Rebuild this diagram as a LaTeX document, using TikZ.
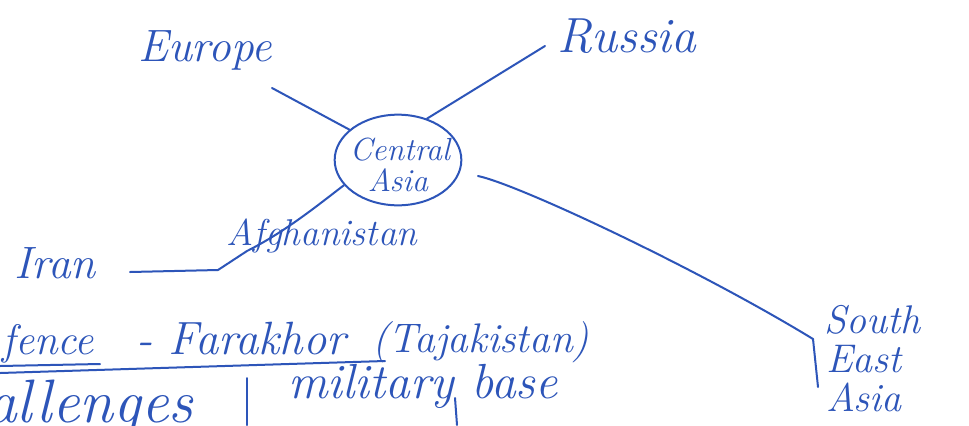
\documentclass[tikz,border=0pt]{standalone}
\usepackage{tikz}
\usetikzlibrary{shapes.geometric}
\definecolor{ink}{RGB}{45,85,185}
\tikzset{
  hand/.style={text=ink, inner sep=0pt},
  pen/.style={draw=ink, line width=1.5pt, line cap=round, line join=round},
  fs/.style={font=\fontsize{#1}{#1}\selectfont\itshape}
}
\begin{document}
\begin{tikzpicture}[x=0.75pt,y=-0.75pt]
\useasboundingbox[fill=white] (0,0) rectangle (969,425);
\clip (0,0) rectangle (969,425);

% hub
\node[pen, ellipse, minimum width=95pt, minimum height=68pt, inner sep=0pt] (ca) at (398,160) {};
\node[hand, fs=24pt] (ca1) at (400,150) {Central};
\node[hand, fs=24pt] (ca2) at (398,180) {Asia};

% outer labels
\node[hand, fs=34pt] (europe) at (205,50) {Europe};
\node[hand, fs=37pt] (russia) at (627,36) {Russia};
\node[hand, fs=28pt] (afg) at (322,236) {Afghanistan};
\node[hand, fs=34pt] (iran) at (55,263) {Iran};
\node[hand, fs=30pt, anchor=base west] (sea1) at (824,333) {South};
\node[hand, fs=30pt, anchor=base west] (sea2) at (826,372) {East};
\node[hand, fs=30pt, anchor=base west] (sea3) at (826,411) {Asia};

% bottom notes
\node[hand, fs=32pt, anchor=base west] (fence) at (2,354) {fence};
\node[hand, fs=35pt, anchor=base west] (far) at (136,354) {- Farakhor};
\node[hand, fs=31pt, anchor=base west] (taj) at (372,352) {(Tajakistan)};
\node[hand, fs=37pt, anchor=base west] (mil) at (288,398) {military base};
\node[hand, fs=46pt, anchor=base west] (chal) at (-14,422) {allenges};

% connector ends
\coordinate (e1) at (272,88);
\coordinate (r1) at (545,46);
\coordinate (a1) at (218,270);
\coordinate (a2) at (247,251);
\coordinate (i1) at (130,272);
\coordinate (c1) at (478,176);
\coordinate (s1) at (813,339);
\coordinate (s2) at (818,387);
\coordinate (u1) at (0,366);
\coordinate (u2) at (100,364);
\coordinate (l1) at (0,373);
\coordinate (l2) at (385,361);
\coordinate (v1) at (247,378);
\coordinate (v2) at (247,425);
\coordinate (y1) at (455,398);
\coordinate (y2) at (457,425);

% connectors
\draw[pen] (ca.148) -- (e1);
\draw[pen] (ca.55) -- (r1);
\draw[pen] (ca.205) .. controls (318,205) and (285,232) .. (a2) -- (a1) -- (i1);
\draw[pen] (c1) .. controls (520,185) and (700,270) .. (s1) -- (s2);

% bottom lines
\draw[pen] (u1) -- (u2);
\draw[pen] (l1) -- (l2);
\draw[pen] (v1) -- (v2);
\draw[pen] (y1) -- (y2);
\end{tikzpicture}
\end{document}
